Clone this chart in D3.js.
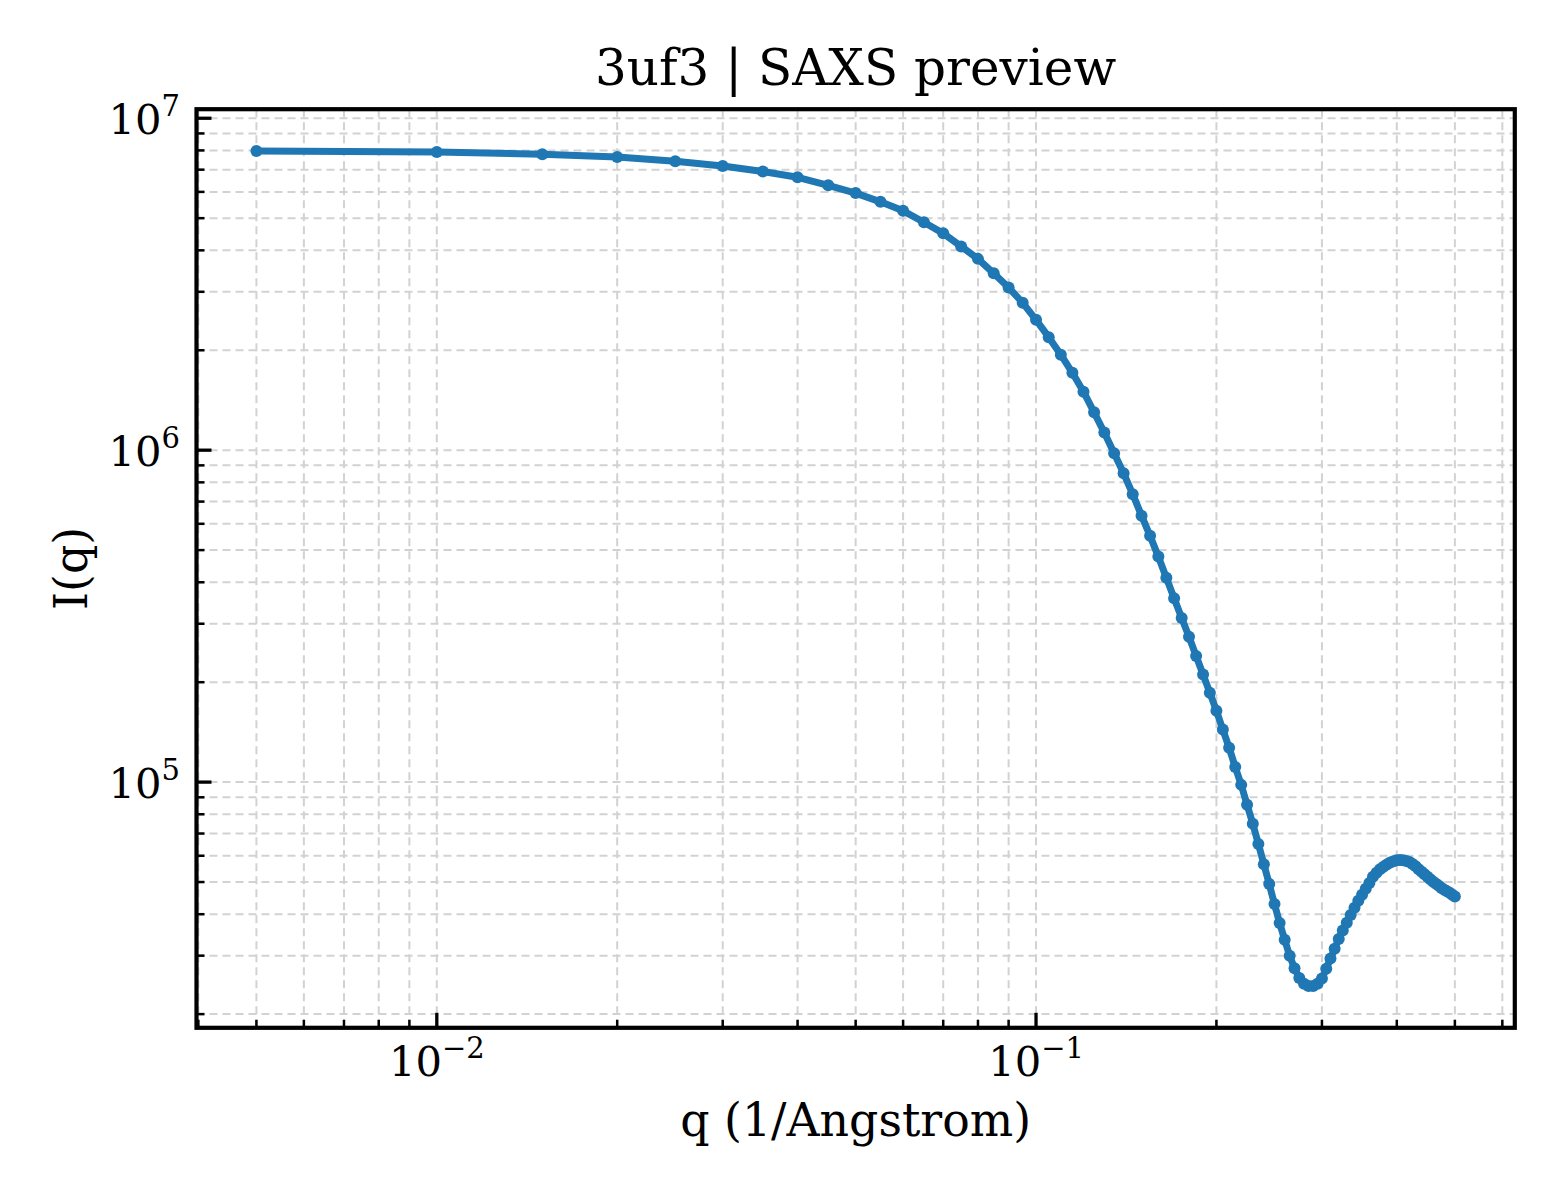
<!DOCTYPE html>
<html lang="en">
<head>
<meta charset="UTF-8">
<title>3uf3 | SAXS preview</title>
<script src="https://d3js.org/d3.v7.min.js"></script>
<style>
  html, body { margin: 0; padding: 0; background: #fff; }
  svg text { font-family: "DejaVu Serif", serif; fill: #000; }
</style>
</head>
<body>
<svg id="chart" width="1560" height="1200"></svg>
<script>
// q values (1/Angstrom)
const qValues = [
  0.005, 0.010, 0.015, 0.020, 0.025, 0.030, 0.035, 0.040, 0.045, 0.050,
  0.055, 0.060, 0.065, 0.070, 0.075, 0.080, 0.085, 0.090, 0.095, 0.100,
  0.105, 0.110, 0.115, 0.120, 0.125, 0.130, 0.135, 0.140, 0.145, 0.150,
  0.155, 0.160, 0.165, 0.170, 0.175, 0.180, 0.185, 0.190, 0.195, 0.200,
  0.205, 0.210, 0.215, 0.220, 0.225, 0.230, 0.235, 0.240, 0.245, 0.250,
  0.255, 0.260, 0.265, 0.270, 0.275, 0.280, 0.285, 0.290, 0.295, 0.300,
  0.305, 0.310, 0.315, 0.320, 0.325, 0.330, 0.335, 0.340, 0.345, 0.350,
  0.355, 0.360, 0.365, 0.370, 0.375, 0.380, 0.385, 0.390, 0.395, 0.400,
  0.405, 0.410, 0.415, 0.420, 0.425, 0.430, 0.435, 0.440, 0.445, 0.450,
  0.455, 0.460, 0.465, 0.470, 0.475, 0.480, 0.485, 0.490, 0.495, 0.500
];

// I(q)
const intensity = [
  7.97e6, 7.91e6, 7.79e6, 7.64e6, 7.42e6, 7.18e6, 6.91e6, 6.64e6, 6.28e6, 5.95e6,
  5.60e6, 5.26e6, 4.86e6, 4.50e6, 4.11e6, 3.77e6, 3.41e6, 3.09e6, 2.78e6, 2.47e6,
  2.19e6, 1.94e6, 1.71e6, 1.50e6, 1.30e6, 1.13e6, 9.79e5, 8.52e5, 7.37e5, 6.35e5,
  5.52e5, 4.78e5, 4.13e5, 3.58e5, 3.12e5, 2.74e5, 2.40e5, 2.11e5, 1.86e5, 1.64e5,
  1.44e5, 1.27e5, 1.11e5, 9.81e4, 8.55e4, 7.49e4, 6.51e4, 5.66e4, 4.93e4, 4.29e4,
  3.76e4, 3.35e4, 3.00e4, 2.75e4, 2.57e4, 2.47e4, 2.43e4, 2.43e4, 2.47e4, 2.56e4,
  2.74e4, 2.94e4, 3.15e4, 3.37e4, 3.57e4, 3.77e4, 3.98e4, 4.18e4, 4.39e4, 4.58e4,
  4.77e4, 4.97e4, 5.19e4, 5.33e4, 5.46e4, 5.56e4, 5.65e4, 5.73e4, 5.78e4, 5.82e4,
  5.83e4, 5.82e4, 5.79e4, 5.75e4, 5.67e4, 5.58e4, 5.46e4, 5.37e4, 5.28e4, 5.19e4,
  5.10e4, 5.01e4, 4.94e4, 4.87e4, 4.80e4, 4.74e4, 4.69e4, 4.64e4, 4.58e4, 4.52e4
];

// tick labels (exponents of 10)
const xMajorExp = [-2, -1];
const yMajorExp = [5, 6, 7];

const titleText = "3uf3 | SAXS preview";
const xLabelText = "q (1/Angstrom)";
const yLabelText = "I(q)";

const data = qValues.map((q, i) => ({ q: q, I: intensity[i] }));

// plot box
const plotL = 196.5, plotT = 109.2, plotR = 1514.8, plotB = 1027.8;

// log domain with 5% padding, like matplotlib autoscale
function logDomain(vals) {
  let lo = Math.log10(d3.min(vals)), hi = Math.log10(d3.max(vals));
  let pad = (hi - lo) * 0.05;
  return [Math.pow(10, lo - pad), Math.pow(10, hi + pad)];
}

const x = d3.scaleLog().domain(logDomain(qValues)).range([plotL, plotR]);
const y = d3.scaleLog().domain(logDomain(intensity)).range([plotB, plotT]);

const svg = d3.select("#chart");

// minor + major tick values inside the domain
function logTicks(scale) {
  let [a, b] = scale.domain();
  let major = [], minor = [];
  for (let e = Math.floor(Math.log10(a)); e <= Math.ceil(Math.log10(b)); e++) {
    for (let m = 1; m < 10; m++) {
      let v = m * Math.pow(10, e);
      if (v < a || v > b) continue;
      if (m === 1) major.push(v); else minor.push(v);
    }
  }
  return { major, minor };
}
const xt = logTicks(x), yt = logTicks(y);

// grid
const grid = svg.append("g")
  .attr("stroke", "#d2d2d2")
  .attr("stroke-width", 2)
  .attr("stroke-dasharray", "8,5")
  .attr("fill", "none");

grid.selectAll("line.vx")
  .data(xt.major.concat(xt.minor))
  .enter().append("line")
  .attr("class", "vx")
  .attr("x1", d => x(d)).attr("x2", d => x(d))
  .attr("y1", plotT).attr("y2", plotB);

grid.selectAll("line.hy")
  .data(yt.major.concat(yt.minor))
  .enter().append("line")
  .attr("class", "hy")
  .attr("x1", plotL).attr("x2", plotR)
  .attr("y1", d => y(d)).attr("y2", d => y(d));

// data line + markers
const line = d3.line().x(d => x(d.q)).y(d => y(d.I));

svg.append("path")
  .datum(data)
  .attr("d", line)
  .attr("fill", "none")
  .attr("stroke", "#1f77b4")
  .attr("stroke-width", 7)
  .attr("stroke-linejoin", "round")
  .attr("stroke-linecap", "round");

svg.append("g")
  .selectAll("circle")
  .data(data)
  .enter().append("circle")
  .attr("cx", d => x(d.q))
  .attr("cy", d => y(d.I))
  .attr("r", 6)
  .attr("fill", "#1f77b4");

// ticks, pointing inward (left and bottom only)
const ticks = svg.append("g").attr("stroke", "#000");

ticks.selectAll("line.xmaj").data(xt.major).enter().append("line")
  .attr("class", "xmaj")
  .attr("x1", d => x(d)).attr("x2", d => x(d))
  .attr("y1", plotB).attr("y2", plotB - 15)
  .attr("stroke-width", 3.3);
ticks.selectAll("line.xmin").data(xt.minor).enter().append("line")
  .attr("class", "xmin")
  .attr("x1", d => x(d)).attr("x2", d => x(d))
  .attr("y1", plotB).attr("y2", plotB - 8)
  .attr("stroke-width", 2.5);
ticks.selectAll("line.ymaj").data(yt.major).enter().append("line")
  .attr("class", "ymaj")
  .attr("x1", plotL).attr("x2", plotL + 15)
  .attr("y1", d => y(d)).attr("y2", d => y(d))
  .attr("stroke-width", 3.3);
ticks.selectAll("line.ymin").data(yt.minor).enter().append("line")
  .attr("class", "ymin")
  .attr("x1", plotL).attr("x2", plotL + 8)
  .attr("y1", d => y(d)).attr("y2", d => y(d))
  .attr("stroke-width", 2.5);

// frame
svg.append("rect")
  .attr("x", plotL).attr("y", plotT)
  .attr("width", plotR - plotL).attr("height", plotB - plotT)
  .attr("fill", "none")
  .attr("stroke", "#000")
  .attr("stroke-width", 4.2);

// tick labels: 10 with superscript exponent
function powerLabel(sel, e) {
  sel.append("tspan").text("10");
  sel.append("tspan")
    .attr("dy", -18)
    .attr("font-size", 29)
    .text(String(e).replace("-", "\u2212"));
}

xMajorExp.forEach(e => {
  let t = svg.append("text")
    .attr("x", x(Math.pow(10, e)))
    .attr("y", 1076)
    .attr("text-anchor", "middle")
    .attr("font-size", 41.7);
  powerLabel(t, e);
});

yMajorExp.forEach(e => {
  let t = svg.append("text")
    .attr("x", 180)
    .attr("y", y(Math.pow(10, e)) + 16)
    .attr("text-anchor", "end")
    .attr("font-size", 41.7);
  powerLabel(t, e);
});

// title and axis labels
svg.append("text")
  .attr("x", (plotL + plotR) / 2)
  .attr("y", 85)
  .attr("text-anchor", "middle")
  .attr("font-size", 50)
  .text(titleText);

svg.append("text")
  .attr("x", (plotL + plotR) / 2)
  .attr("y", 1136)
  .attr("text-anchor", "middle")
  .attr("font-size", 45.8)
  .text(xLabelText);

svg.append("text")
  .attr("transform", `translate(87,${(plotT + plotB) / 2}) rotate(-90)`)
  .attr("text-anchor", "middle")
  .attr("font-size", 45.8)
  .text(yLabelText);
</script>
</body>
</html>
